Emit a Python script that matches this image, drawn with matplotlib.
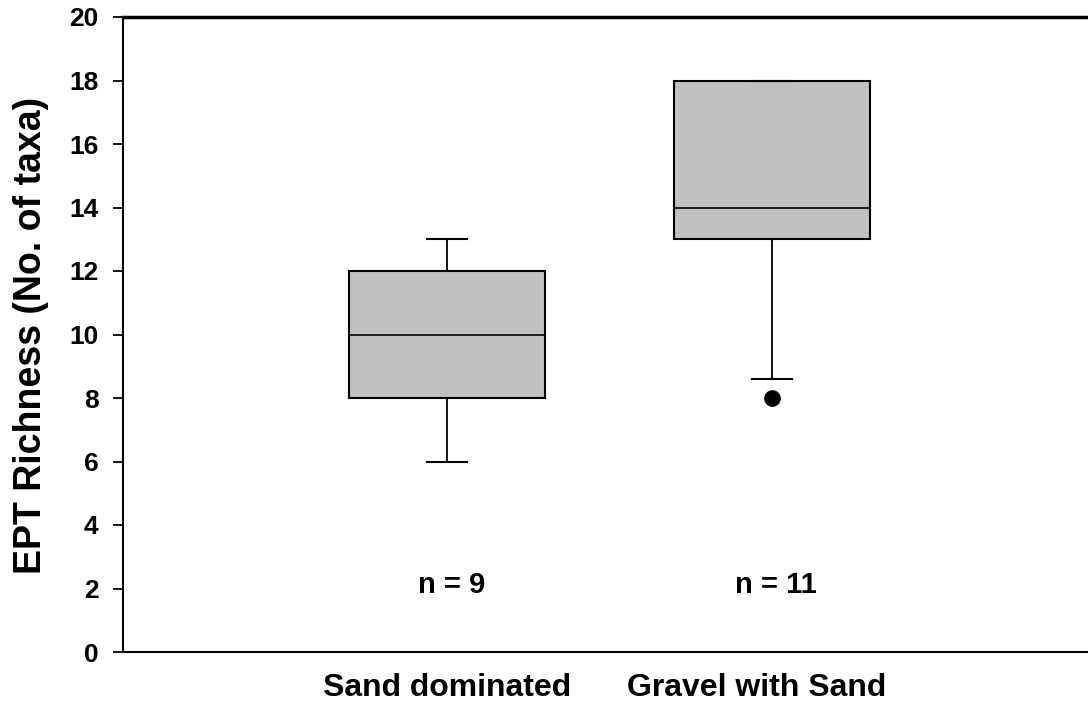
import matplotlib
matplotlib.use("Agg")
import matplotlib.pyplot as plt
from matplotlib.transforms import blended_transform_factory

plt.rcParams['font.family'] = ['Liberation Sans', 'DejaVu Sans']
plt.rcParams['font.weight'] = 'bold'

categories = ["Sand dominated", "Gravel with Sand"]
whisker_low = [6, 8.6]
q1 = [8, 13]
median = [10, 14]
q3 = [12, 18]
whisker_high = [13, 18]
outliers = [[], [8]]
n_labels = ["n = 9", "n = 11"]
y_ticks = [0, 2, 4, 6, 8, 10, 12, 14, 16, 18, 20]
y_label = "EPT Richness (No. of taxa)"

positions = [1, 2]

fig = plt.figure(figsize=(10.88, 7.04), dpi=100)
W, H = 1088, 704
left, right, top, bottom = 123, 1096, 17, 652
ax = fig.add_axes([left / W, 1 - bottom / H, (right - left) / W, (bottom - top) / H])

stats = []
for i, c in enumerate(categories):
    stats.append(dict(label=c, whislo=whisker_low[i], q1=q1[i], med=median[i],
                      q3=q3[i], whishi=whisker_high[i], fliers=outliers[i]))

ax.bxp(stats, positions=positions, widths=0.605, capwidths=0.123,
       patch_artist=True, showfliers=True,
       boxprops=dict(facecolor='#c0c0c0', edgecolor='black', linewidth=1.5),
       medianprops=dict(color='black', linewidth=1.2),
       whiskerprops=dict(color='black', linewidth=1.3),
       capprops=dict(color='black', linewidth=1.5),
       flierprops=dict(marker='o', markerfacecolor='black', markeredgecolor='black',
                       markersize=11))

ax.set_xlim(0, 3)
ax.set_ylim(0, 20)
ax.set_yticks(y_ticks)
ax.set_yticklabels([str(v) for v in y_ticks], fontsize=19, fontweight='bold')
ax.tick_params(axis='y', direction='out', length=7.5, width=1.3, pad=10)
ax.set_xticks([])

for s in ['left', 'bottom']:
    ax.spines[s].set_linewidth(1.5)
ax.spines['top'].set_linewidth(2.5)
ax.spines['right'].set_visible(False)

fig.text(31 / W, 1 - 335 / H, y_label, rotation=90, ha='center', va='center',
         fontsize=27, fontweight='bold')

for i, t in enumerate(n_labels):
    ax.text(positions[i] + 0.012, 2.1, t, ha='center', va='center', fontsize=21, fontweight='bold')

trans = blended_transform_factory(ax.transData, fig.transFigure)
cat_x = [1.0, 1.953]
for i, c in enumerate(categories):
    ax.text(cat_x[i], 1 - 688 / H, c, transform=trans, ha='center', va='center',
            fontsize=23, fontweight='bold')

fig.savefig("out.png", dpi=100)
